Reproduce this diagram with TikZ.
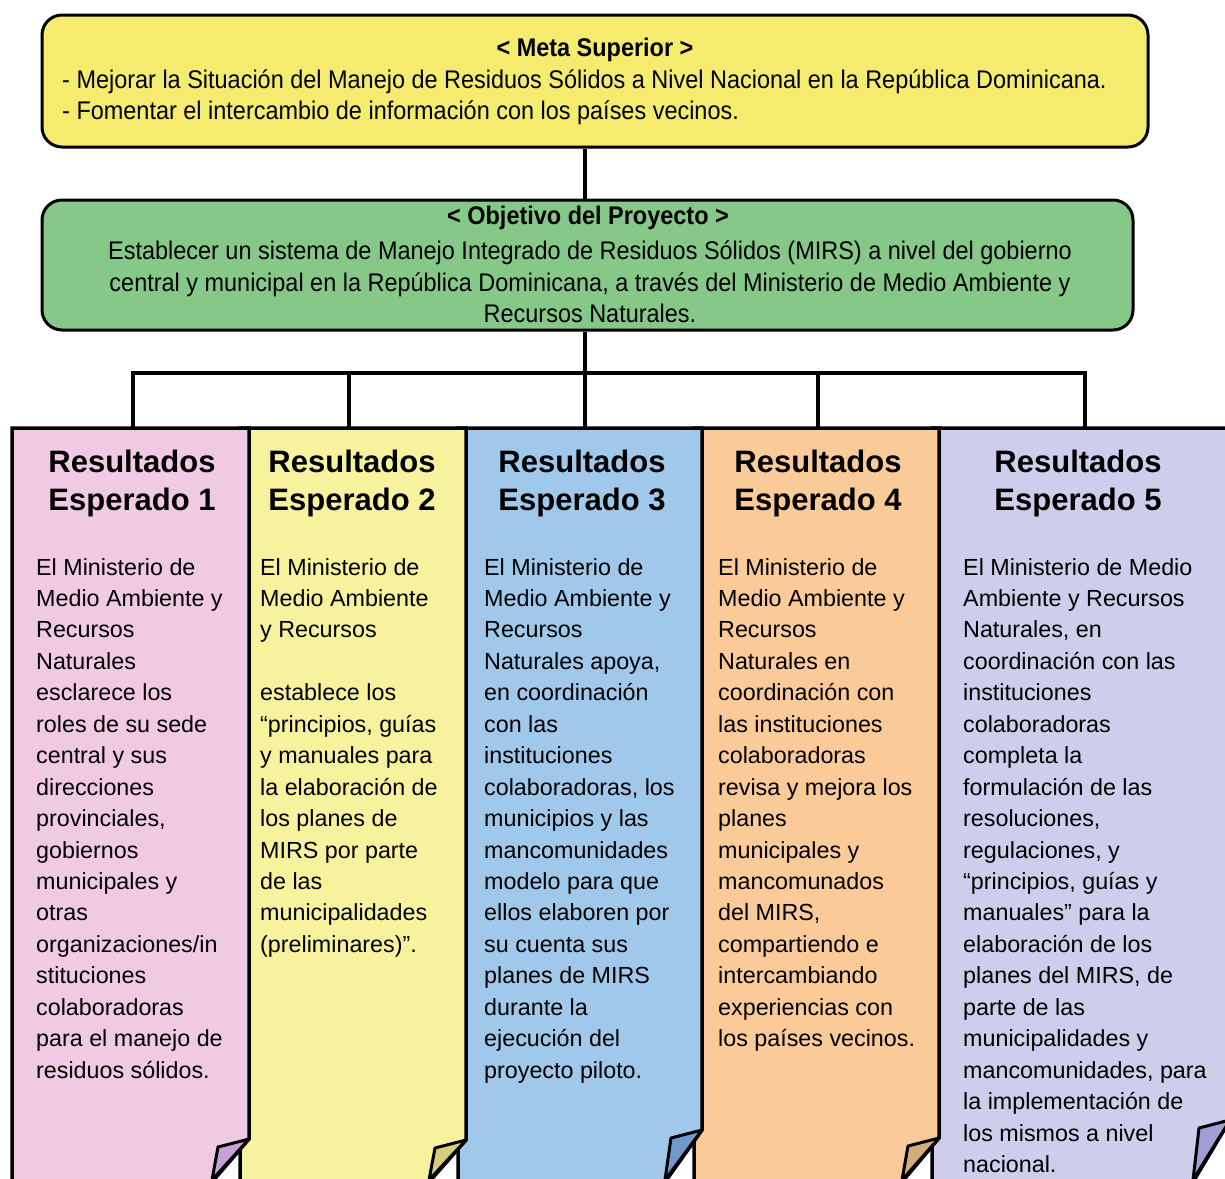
\documentclass[tikz,border=0pt]{standalone}
\usepackage{fontspec}
\setmainfont{Liberation Sans}
\newfontfamily\condfont{Liberation Sans}[FakeStretch=0.92]
\definecolor{topyellow}{RGB}{245,235,110}
\definecolor{objgreen}{RGB}{134,200,136}
\definecolor{cpink}{RGB}{240,202,226}
\definecolor{cyellow}{RGB}{247,242,158}
\definecolor{cblue}{RGB}{160,200,235}
\definecolor{corange}{RGB}{250,202,152}
\definecolor{clav}{RGB}{206,205,235}
\definecolor{fpink}{RGB}{200,160,215}
\definecolor{fyellow}{RGB}{212,206,122}
\definecolor{fblue}{RGB}{112,152,202}
\definecolor{forange}{RGB}{212,172,122}
\definecolor{flav}{RGB}{160,160,215}
\tikzset{
  topbox/.style={draw=black, line width=3pt, rounded corners=20pt},
  conn/.style={draw=black, line width=4pt},
  colborder/.style={draw=black, line width=3.5pt, line join=miter},
  flapst/.style={draw=black, line width=3pt, line join=round},
  toptitle/.style={font=\condfont\bfseries\fontsize{25.5}{31.5}\selectfont, inner sep=0pt},
  toptext/.style={font=\condfont\fontsize{25.5}{31.5}\selectfont, inner sep=0pt},
  coltitle/.style={font=\bfseries\fontsize{31}{38}\selectfont, align=center, inner sep=0pt},
  coltext/.style={font=\fontsize{23.3}{31.44}\selectfont, align=left, anchor=north west, inner sep=0pt},
}
\newcommand{\pagecol}[5]{% L, R, yf, fill, flapfill
  \fill[#4] (#1,1182) -- (#1,428) -- (#2,428) -- (#2,#3) -- ({#2-37},1182) -- cycle;
  \draw[colborder] (#1,1182) -- (#1,428) -- (#2,428) -- (#2,#3) -- ({#2-37},1182);
  \filldraw[flapst, fill=#5] (#2,#3) -- ({#2-31},{#3+8}) -- ({#2-37},1180) -- cycle;
}
\begin{document}
\begin{tikzpicture}[x=1pt,y=-1pt]
\useasboundingbox[fill=white] (0,0) rectangle (1225,1178);

% top boxes
\node[topbox, fill=topyellow, minimum width=1106pt, minimum height=132pt] (meta) at (595,81) {};
\node[toptitle] (metat) at (595,50) {< Meta Superior >};
\node[toptext, anchor=west, align=left] (metab) at (62,97.5) {- Mejorar la Situación del Manejo de Residuos Sólidos a Nivel Nacional en la República Dominicana.\\- Fomentar el intercambio de información con los países vecinos.};

\node[topbox, fill=objgreen, minimum width=1091pt, minimum height=130pt] (obj) at (587.5,265) {};
\node[toptitle] (objt) at (588,218) {< Objetivo del Proyecto >};
\node[toptext, align=center] (objb) at (590,282) {Establecer un sistema de Manejo Integrado de Residuos Sólidos (MIRS) a nivel del gobierno\\central y municipal en la República Dominicana, a través del Ministerio de Medio Ambiente y\\Recursos Naturales.};

% columns (right to left so the left page lies on top)
\pagecol{932}{1230}{1120}{clav}{flav}
\pagecol{694}{939}{1138}{corange}{forange}
\pagecol{458}{702}{1130}{cblue}{fblue}
\pagecol{240}{466}{1140}{cyellow}{fyellow}
\pagecol{12}{249}{1139}{cpink}{fpink}

% titles
\node[coltitle] (r1) at (132,483) {Resultados\\Esperado 1};
\node[coltitle] (r2) at (352,483) {Resultados\\Esperado 2};
\node[coltitle] (r3) at (582,483) {Resultados\\Esperado 3};
\node[coltitle] (r4) at (818,483) {Resultados\\Esperado 4};
\node[coltitle] (r5) at (1078,483) {Resultados\\Esperado 5};

% texts
\node[coltext] (x1) at (36,558) {El Ministerio de\\Medio Ambiente y\\Recursos\\Naturales\\esclarece los\\roles de su sede\\central y sus\\direcciones\\provinciales,\\gobiernos\\municipales y\\otras\\organizaciones/in\\stituciones\\colaboradoras\\para el manejo de\\residuos sólidos.};
\node[coltext] (x2) at (260,558) {El Ministerio de\\Medio Ambiente\\y Recursos\\[31.44pt]establece los\\“principios, guías\\y manuales para\\la elaboración de\\los planes de\\MIRS por parte\\de las\\municipalidades\\(preliminares)”.};
\node[coltext] (x3) at (484,558) {El Ministerio de\\Medio Ambiente y\\Recursos\\Naturales apoya,\\en coordinación\\con las\\instituciones\\colaboradoras, los\\municipios y las\\mancomunidades\\modelo para que\\ellos elaboren por\\su cuenta sus\\planes de MIRS\\durante la\\ejecución del\\proyecto piloto.};
\node[coltext] (x4) at (718,558) {El Ministerio de\\Medio Ambiente y\\Recursos\\Naturales en\\coordinación con\\las instituciones\\colaboradoras\\revisa y mejora los\\planes\\municipales y\\mancomunados\\del MIRS,\\compartiendo e\\intercambiando\\experiencias con\\los países vecinos.};
\node[coltext] (x5) at (963,558) {El Ministerio de Medio\\Ambiente y Recursos\\Naturales, en\\coordinación con las\\instituciones\\colaboradoras\\completa la\\formulación de las\\resoluciones,\\regulaciones, y\\“principios, guías y\\manuales” para la\\elaboración de los\\planes del MIRS, de\\parte de las\\municipalidades y\\mancomunidades, para\\la implementación de\\los mismos a nivel\\nacional.};

% connectors
\coordinate (t1) at (133,428);
\coordinate (t2) at (349,428);
\coordinate (t3) at (585,428);
\coordinate (t4) at (818,428);
\coordinate (t5) at (1085,428);
\coordinate (b1) at (133,373);
\coordinate (b2) at (349,373);
\coordinate (b4) at (818,373);
\coordinate (b5) at (1085,373);
\draw[conn] (t3 |- meta.south) -- (t3 |- obj.north);
\draw[conn] (t3 |- obj.south) -- (t3);
\draw[conn] (t1) -- (b1) -- (b5) -- (t5);
\draw[conn] (b2) -- (t2);
\draw[conn] (b4) -- (t4);
\end{tikzpicture}
\end{document}
